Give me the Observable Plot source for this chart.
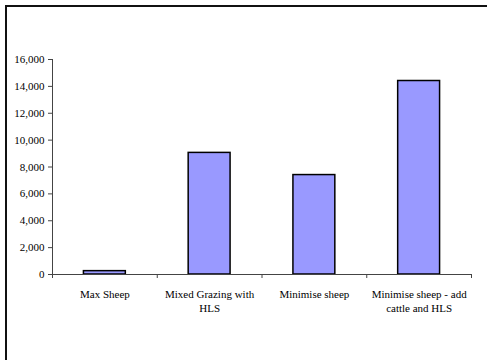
<!DOCTYPE html>
<html>
<head>
<meta charset="utf-8">
<script src="https://cdn.jsdelivr.net/npm/d3@7"></script>
<script src="https://cdn.jsdelivr.net/npm/@observablehq/plot@0.6"></script>
<style>
  html, body { margin: 0; padding: 0; background: #fff; overflow: hidden; }
  #wrap { position: relative; width: 487px; height: 360px; }
  #frame { position: absolute; left: 5px; top: 5px; width: 520px; height: 420px;
           border-left: 2px solid #111; border-top: 2px solid #111; box-sizing: border-box; }
  #chart { position: absolute; left: 0; top: 0; }
  #chart svg, #chart svg text { font-family: "Liberation Serif", "Times New Roman", Times, serif !important; }
</style>
</head>
<body>
<div id="wrap"><div id="frame"></div><div id="chart"></div></div>
<script>
const categories = ["Max Sheep", "Mixed Grazing with\nHLS", "Minimise sheep", "Minimise sheep - add\ncattle and HLS"];
const values = [250, 9050, 7400, 14400];
const yTicks = [0, 2000, 4000, 6000, 8000, 10000, 12000, 14000, 16000];

const data = categories.map((c, i) => ({i, c, v: values[i]}));
const idx = categories.map((c, i) => i);
const boundaries = [...idx, categories.length];
const centers = idx.map(i => i + 0.5);

const chart = Plot.plot({
  width: 487,
  height: 360,
  marginLeft: 52,
  marginRight: 16,
  marginTop: 59,
  marginBottom: 86,
  x: {domain: [0, categories.length]},
  y: {domain: [0, 16000]},
  style: {fontSize: "11px", background: "transparent", color: "#000"},
  marks: [
    Plot.rectY(data, {x1: d => d.i + 0.3, x2: d => d.i + 0.7, y1: 0, y2: "v", fill: "#9999FF", stroke: "#000", strokeWidth: 1.5}),
    Plot.ruleY([0], {stroke: "#444"}),
    Plot.ruleX([0], {stroke: "#444"}),
    Plot.axisY({ticks: yTicks, tickFormat: d3.format(","), tickSize: 4, tickPadding: 4, label: null, stroke: "#444"}),
    Plot.axisX({ticks: boundaries, tickFormat: () => "", tickSize: 4, label: null, stroke: "#444"}),
    Plot.axisX({ticks: centers, tickFormat: d => categories[Math.round(d - 0.5)], tickSize: 0, tickPadding: 13, lineHeight: 1.3, label: null})
  ]
});
document.getElementById("chart").appendChild(chart);
</script>
</body>
</html>
